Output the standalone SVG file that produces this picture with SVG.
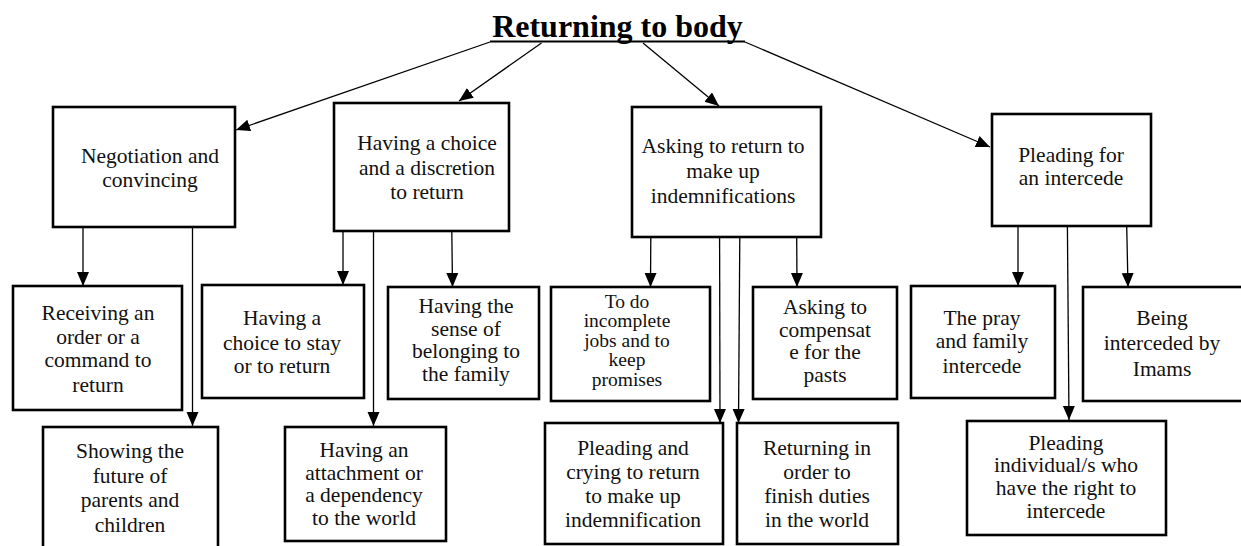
<svg xmlns="http://www.w3.org/2000/svg" width="1241" height="546" viewBox="0 0 1241 546">
<style>
.box{fill:#fff;stroke:#000;stroke-width:2.6}
.t{font-family:"Liberation Serif","Times New Roman",serif;font-size:21.5px;fill:#111;text-anchor:middle}
.ts{font-size:19.5px}
.title{font-family:"Liberation Serif","Times New Roman",serif;font-size:32px;font-weight:bold;fill:#000;text-anchor:middle}
.c{stroke:#000;stroke-width:1.3;fill:none;marker-end:url(#ah)}
</style>
<defs>
<marker id="ah" markerUnits="userSpaceOnUse" markerWidth="15" markerHeight="13" refX="14" refY="6" orient="auto">
<path d="M0,0 L14,6 L0,12 Z" fill="#000"/>
</marker>
</defs>
<rect width="1241" height="546" fill="#fff"/>

<g id="title">
<text class="title" x="617.5" y="36.5">Returning to body</text>
<line x1="490" y1="41.5" x2="745" y2="41.5" stroke="#000" stroke-width="2"/>
</g>

<g id="connectors">
<line class="c" x1="490" y1="42" x2="236" y2="130"/>
<line class="c" x1="541.5" y1="43" x2="459" y2="101"/>
<line class="c" x1="643" y1="43" x2="719" y2="106"/>
<line class="c" x1="745" y1="42" x2="990" y2="147"/>

<line class="c" x1="83" y1="227" x2="83" y2="286"/>
<line class="c" x1="192.5" y1="227" x2="192.5" y2="426"/>

<line class="c" x1="343" y1="231" x2="343" y2="285"/>
<line class="c" x1="373.5" y1="231" x2="373.5" y2="426"/>
<line class="c" x1="451.8" y1="231" x2="452.5" y2="287"/>

<line class="c" x1="650.8" y1="237" x2="650.5" y2="287"/>
<line class="c" x1="719.6" y1="237" x2="720" y2="423"/>
<line class="c" x1="739.8" y1="237" x2="738.5" y2="423"/>
<line class="c" x1="796.7" y1="237" x2="797" y2="287"/>

<line class="c" x1="1018" y1="226" x2="1018" y2="286"/>
<line class="c" x1="1067.4" y1="226" x2="1069" y2="420"/>
<line class="c" x1="1126.7" y1="226" x2="1128" y2="287"/>
</g>

<g id="negotiation">
<rect class="box" x="53" y="107" width="182" height="120"/>
<text class="t" x="150" y="163">Negotiation and</text>
<text class="t" x="150" y="187">convincing</text>
</g>

<g id="choice">
<rect class="box" x="334" y="103" width="175" height="128"/>
<text class="t" x="427" y="150">Having a choice</text>
<text class="t" x="427" y="175">and a discretion</text>
<text class="t" x="427" y="199">to return</text>
</g>

<g id="asking">
<rect class="box" x="632" y="107" width="189" height="130"/>
<text class="t" x="723" y="153">Asking to return to</text>
<text class="t" x="723" y="178">make up</text>
<text class="t" x="723" y="203">indemnifications</text>
</g>

<g id="pleading-intercede">
<rect class="box" x="992" y="114" width="159" height="112"/>
<text class="t" x="1071" y="162">Pleading for</text>
<text class="t" x="1071" y="185">an intercede</text>
</g>

<g id="receiving">
<rect class="box" x="13" y="286" width="169" height="124"/>
<text class="t" x="98" y="320">Receiving an</text>
<text class="t" x="98" y="344">order or a</text>
<text class="t" x="98" y="367">command to</text>
<text class="t" x="98" y="392">return</text>
</g>

<g id="choice-stay">
<rect class="box" x="202" y="285" width="162" height="113"/>
<text class="t" x="282" y="325">Having a</text>
<text class="t" x="282" y="350">choice to stay</text>
<text class="t" x="282" y="373">or to return</text>
</g>

<g id="belonging">
<rect class="box" x="388" y="287" width="151" height="112"/>
<text class="t" x="466" y="313">Having the</text>
<text class="t" x="466" y="335.5">sense of</text>
<text class="t" x="466" y="358">belonging to</text>
<text class="t" x="466" y="380.5">the family</text>
</g>

<g id="incomplete">
<rect class="box" x="551" y="287" width="159" height="114"/>
<text class="t ts" x="627" y="307.5">To do</text>
<text class="t ts" x="627" y="327">incomplete</text>
<text class="t ts" x="627" y="346.5">jobs and to</text>
<text class="t ts" x="627" y="366">keep</text>
<text class="t ts" x="627" y="385.5">promises</text>
</g>

<g id="compensate">
<rect class="box" x="753" y="287" width="144" height="112"/>
<text class="t" x="825" y="314">Asking to</text>
<text class="t" x="825" y="336.5">compensat</text>
<text class="t" x="825" y="359">e for the</text>
<text class="t" x="825" y="381.5">pasts</text>
</g>

<g id="pray">
<rect class="box" x="911" y="286" width="144" height="112"/>
<text class="t" x="982" y="325">The pray</text>
<text class="t" x="982" y="348">and family</text>
<text class="t" x="982" y="373">intercede</text>
</g>

<g id="imams">
<rect class="box" x="1083" y="287" width="170" height="114"/>
<text class="t" x="1162" y="325">Being</text>
<text class="t" x="1162" y="350">interceded by</text>
<text class="t" x="1162" y="376">Imams</text>
</g>

<g id="showing">
<rect class="box" x="43" y="427" width="175" height="125"/>
<text class="t" x="130" y="458">Showing the</text>
<text class="t" x="130" y="483">future of</text>
<text class="t" x="130" y="507">parents and</text>
<text class="t" x="130" y="532">children</text>
</g>

<g id="attachment">
<rect class="box" x="285" y="427" width="161" height="114"/>
<text class="t" x="364" y="457">Having an</text>
<text class="t" x="364" y="480">attachment or</text>
<text class="t" x="364" y="502">a dependency</text>
<text class="t" x="364" y="525">to the world</text>
</g>

<g id="crying">
<rect class="box" x="545" y="423" width="178" height="121"/>
<text class="t" x="633" y="455">Pleading and</text>
<text class="t" x="633" y="479">crying to return</text>
<text class="t" x="633" y="503">to make up</text>
<text class="t" x="633" y="527">indemnification</text>
</g>

<g id="duties">
<rect class="box" x="737" y="423" width="161" height="121"/>
<text class="t" x="817" y="455">Returning in</text>
<text class="t" x="817" y="479">order to</text>
<text class="t" x="817" y="503">finish duties</text>
<text class="t" x="817" y="527">in the world</text>
</g>

<g id="right-to-intercede">
<rect class="box" x="967" y="421" width="199" height="114"/>
<text class="t" x="1066" y="450">Pleading</text>
<text class="t" x="1066" y="472">individual/s who</text>
<text class="t" x="1066" y="495">have the right to</text>
<text class="t" x="1066" y="518">intercede</text>
</g>
</svg>
